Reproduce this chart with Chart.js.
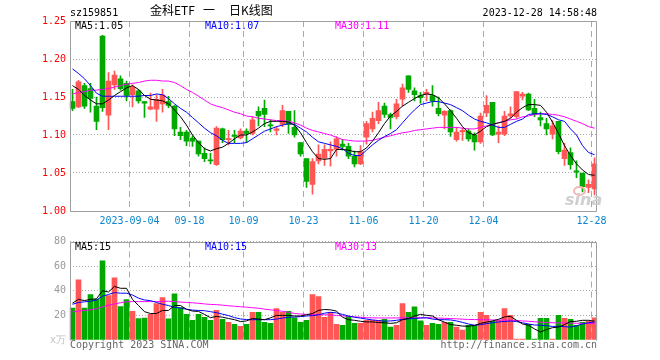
<!DOCTYPE html>
<html>
<head>
<meta charset="utf-8">
<title>金科ETF 日K线图</title>
<script src="https://cdn.jsdelivr.net/npm/chart.js@4.4.0/dist/chart.umd.min.js"></script>
<style>
  body { margin: 0; background: #fff; }
  #wrap { position: relative; width: 660px; height: 360px; overflow: hidden; font: 10px "DejaVu Sans Mono", monospace; }
  #wrap canvas { position: absolute; left: 0; }
  .txt { position: absolute; white-space: pre; line-height: 12px; }
</style>
</head>
<body>
<div id="wrap">
  <canvas id="kChart" width="660" height="232" style="top:0"></canvas>
  <canvas id="volChart" width="660" height="128" style="top:232px"></canvas>

  <div class="txt" id="code" style="left:70px;top:7px;color:#000"></div>
  <div class="txt" id="title" style="left:150px;top:4px;font:12px 'Noto Sans CJK SC';line-height:12px"></div>
  <div class="txt" id="stamp" style="right:63px;top:7px;color:#000"></div>

  <div class="txt" id="ma5Label" style="left:75px;top:20px;color:#000"></div>
  <div class="txt" id="ma10Label" style="left:205px;top:20px;color:#0000ff"></div>
  <div class="txt" id="ma30Label" style="left:335px;top:20px;color:#ff00ff"></div>

  <div class="txt" id="vma5Label" style="left:75px;top:241px;color:#000"></div>
  <div class="txt" id="vma10Label" style="left:205px;top:241px;color:#0000ff"></div>
  <div class="txt" id="vma30Label" style="left:335px;top:241px;color:#ff00ff"></div>

  <div class="txt" id="copy" style="left:70px;top:339px;color:#666"></div>
  <div class="txt" id="site" style="right:63px;top:339px;color:#666"></div>

  <div style="position:absolute;left:573px;top:186px;width:9px;height:6px;border:2px solid #f3b5b5;border-radius:50%"></div>
  <div class="txt" style="left:565px;top:192px;font:italic bold 16px 'DejaVu Sans';line-height:16px;color:#cfcfcf">sina</div>
</div>

<script>
// ---- data ----
const dates = [
  '2023-08-21','2023-08-22','2023-08-23','2023-08-24','2023-08-25','2023-08-28','2023-08-29','2023-08-30','2023-08-31','2023-09-01',
  '2023-09-04','2023-09-05','2023-09-06','2023-09-07','2023-09-08','2023-09-11','2023-09-12','2023-09-13','2023-09-14','2023-09-15',
  '2023-09-18','2023-09-19','2023-09-20','2023-09-21','2023-09-22','2023-09-25','2023-09-26','2023-09-27','2023-09-28',
  '2023-10-09','2023-10-10','2023-10-11','2023-10-12','2023-10-13','2023-10-16','2023-10-17','2023-10-18','2023-10-19','2023-10-20',
  '2023-10-23','2023-10-24','2023-10-25','2023-10-26','2023-10-27','2023-10-30','2023-10-31','2023-11-01','2023-11-02','2023-11-03',
  '2023-11-06','2023-11-07','2023-11-08','2023-11-09','2023-11-10','2023-11-13','2023-11-14','2023-11-15','2023-11-16','2023-11-17',
  '2023-11-20','2023-11-21','2023-11-22','2023-11-23','2023-11-24','2023-11-27','2023-11-28','2023-11-29','2023-11-30','2023-12-01',
  '2023-12-04','2023-12-05','2023-12-06','2023-12-07','2023-12-08','2023-12-11','2023-12-12','2023-12-13','2023-12-14','2023-12-15',
  '2023-12-18','2023-12-19','2023-12-20','2023-12-21','2023-12-22','2023-12-25','2023-12-26','2023-12-27','2023-12-28'
];

const open = [
  1.144,1.137,1.165,1.161,1.138,1.230,1.126,1.166,1.174,1.168,
  1.153,1.158,1.144,1.134,1.134,1.141,1.144,1.138,1.104,1.104,
  1.096,1.092,1.076,1.067,1.061,1.108,1.094,1.100,1.096,1.105,
  1.102,1.131,1.135,1.113,1.106,1.114,1.131,1.110,1.090,1.069,
  1.035,1.066,1.070,1.079,1.081,1.088,1.085,1.072,1.062,1.097,
  1.108,1.119,1.138,1.127,1.124,1.147,1.178,1.158,1.152,1.154,
  1.152,1.135,1.126,1.132,1.094,1.104,1.105,1.100,1.091,1.129,
  1.143,1.101,1.101,1.125,1.124,1.151,1.154,1.135,1.123,1.115,
  1.101,1.118,1.069,1.077,1.053,1.050,1.031,1.029
];
const high = [
  1.160,1.172,1.168,1.168,1.150,1.231,1.182,1.184,1.178,1.171,
  1.166,1.160,1.144,1.155,1.153,1.160,1.151,1.139,1.110,1.106,
  1.099,1.092,1.083,1.076,1.111,1.109,1.106,1.106,1.108,1.108,
  1.124,1.137,1.146,1.120,1.111,1.139,1.131,1.132,1.090,1.069,
  1.069,1.087,1.087,1.091,1.098,1.094,1.089,1.079,1.086,1.118,
  1.130,1.143,1.142,1.129,1.147,1.167,1.178,1.162,1.156,1.160,
  1.165,1.150,1.132,1.133,1.110,1.109,1.108,1.103,1.129,1.152,
  1.143,1.112,1.131,1.137,1.157,1.156,1.155,1.147,1.130,1.122,
  1.119,1.118,1.089,1.083,1.066,1.050,1.041,1.070
];
const low = [
  1.132,1.136,1.135,1.130,1.107,1.131,1.107,1.160,1.159,1.145,
  1.137,1.142,1.123,1.133,1.118,1.130,1.136,1.099,1.094,1.086,
  1.085,1.072,1.065,1.062,1.060,1.090,1.087,1.090,1.095,1.090,
  1.100,1.112,1.111,1.104,1.100,1.111,1.102,1.097,1.072,1.031,
  1.022,1.062,1.060,1.059,1.072,1.080,1.069,1.058,1.061,1.088,
  1.104,1.115,1.123,1.108,1.121,1.138,1.156,1.145,1.142,1.145,
  1.138,1.125,1.108,1.098,1.092,1.093,1.092,1.080,1.089,1.124,
  1.099,1.090,1.099,1.122,1.122,1.146,1.132,1.124,1.112,1.100,
  1.095,1.075,1.060,1.055,1.044,1.025,1.024,1.021
];
const close = [
  1.135,1.170,1.138,1.148,1.118,1.136,1.171,1.179,1.161,1.152,
  1.163,1.145,1.142,1.137,1.147,1.153,1.139,1.108,1.099,1.092,
  1.092,1.075,1.069,1.066,1.109,1.094,1.095,1.098,1.105,1.102,
  1.120,1.125,1.127,1.112,1.108,1.132,1.114,1.100,1.075,1.039,
  1.065,1.075,1.081,1.081,1.095,1.085,1.072,1.062,1.078,1.115,
  1.122,1.132,1.127,1.123,1.141,1.162,1.160,1.153,1.149,1.156,
  1.145,1.128,1.131,1.104,1.104,1.106,1.095,1.091,1.125,1.139,
  1.100,1.104,1.125,1.128,1.157,1.154,1.133,1.127,1.120,1.108,
  1.112,1.078,1.080,1.061,1.051,1.032,1.035,1.062
];

// moving averages as drawn on the price panel
const ma5 = [
  1.165,1.160,1.152,1.146,1.141,1.141,1.146,1.152,1.157,1.162,
  1.165,1.160,1.152,1.147,1.146,1.145,1.141,1.133,1.124,1.113,
  1.100,1.090,1.082,1.079,1.082,1.084,1.089,1.095,1.100,1.100,
  1.104,1.109,1.115,1.118,1.118,1.118,1.117,1.113,1.103,1.090,
  1.078,1.069,1.068,1.069,1.081,1.081,1.080,1.078,1.078,1.083,
  1.092,1.103,1.115,1.125,1.131,1.138,1.143,1.148,1.152,1.154,
  1.153,1.149,1.141,1.132,1.122,1.111,1.103,1.100,1.105,1.111,
  1.114,1.116,1.118,1.122,1.130,1.136,1.140,1.140,1.139,1.130,
  1.117,1.102,1.086,1.073,1.062,1.054,1.048,1.047
];
const ma10 = [
  1.187,1.181,1.174,1.165,1.155,1.151,1.151,1.151,1.151,1.151,
  1.151,1.151,1.152,1.152,1.154,1.153,1.148,1.141,1.135,1.130,
  1.123,1.116,1.109,1.103,1.099,1.093,1.089,1.089,1.089,1.090,
  1.095,1.100,1.105,1.108,1.111,1.113,1.115,1.114,1.109,1.104,
  1.097,1.091,1.089,1.087,1.085,1.082,1.076,1.073,1.073,1.080,
  1.087,1.093,1.098,1.102,1.107,1.116,1.125,1.133,1.140,1.142,
  1.144,1.144,1.142,1.140,1.136,1.132,1.126,1.121,1.118,1.116,
  1.113,1.110,1.110,1.114,1.118,1.121,1.127,1.128,1.128,1.127,
  1.124,1.120,1.118,1.108,1.100,1.086,1.077,1.074
];
const ma30 = [
  1.154,1.156,1.157,1.159,1.159,1.160,1.161,1.163,1.165,1.167,
  1.168,1.169,1.171,1.172,1.172,1.171,1.171,1.169,1.165,1.160,
  1.156,1.151,1.146,1.141,1.138,1.136,1.133,1.130,1.128,1.125,
  1.124,1.122,1.121,1.120,1.119,1.119,1.118,1.116,1.113,1.109,
  1.106,1.104,1.102,1.100,1.097,1.094,1.093,1.092,1.092,1.092,
  1.093,1.095,1.097,1.099,1.101,1.103,1.104,1.106,1.107,1.108,
  1.109,1.110,1.110,1.110,1.110,1.109,1.108,1.108,1.110,1.112,
  1.114,1.116,1.118,1.120,1.121,1.124,1.125,1.127,1.128,1.128,
  1.127,1.126,1.124,1.121,1.118,1.115,1.111,1.109
];

// volume, in 万
const volume = [
  25.9,48.8,25.9,36.8,33.0,64.4,36.0,50.4,27.2,32.8,
  23.2,17.3,17.9,20.8,29.6,34.4,17.1,37.6,26.4,20.8,
  16.0,20.8,18.4,16.0,24.0,16.8,14.4,12.8,11.2,12.8,
  22.4,22.4,14.4,13.6,25.6,22.4,23.2,18.1,14.4,16.0,
  36.8,35.2,18.4,22.4,12.8,12.0,19.2,13.6,13.6,16.0,
  16.0,16.0,16.8,10.4,12.0,29.6,22.4,26.9,15.5,12.0,
  13.6,12.8,14.4,14.4,10.4,8.0,12.0,12.0,22.4,20.0,
  15.2,16.0,25.6,20.0,0.8,0.8,12.8,0.8,17.6,17.6,
  0.8,20.0,17.6,16.8,12.0,14.4,15.2,18.0
];
const vma5 = [
  30,33,32,33,33.5,40,39,43.5,42,42,
  33,28,23,21.5,21.5,24,24,28,28,25,
  23.5,23.2,20.8,18.1,19.2,18.5,17.5,16.5,15,15.5,
  17.5,17,16.5,18,20,20,20,19.5,19.5,20.5,
  21.5,24,24.8,24.5,23.5,18.5,16.5,16,15.2,14.7,
  14.7,14.2,14,13.5,14,16.5,17.5,19.5,20.8,20,
  19.5,16.5,14.5,12.5,12,11.3,11.2,11.8,13.5,14.5,
  15.5,16.8,18.7,19.2,16,13,12,9,6.5,8.5,
  10,10.5,12.5,15,15.2,16,16,15.3
];
const vma10 = [
  29,30.5,31,31.5,32.5,35.5,37,38.5,38,38,
  36.5,34,32.5,32,30.5,29,28,26.5,26,25,
  24.3,24,23.8,23,22.2,21,19.8,18.2,17.1,16.6,
  16.5,16.5,16.5,16.5,17,17.8,18.5,18.7,19,19.5,
  19.8,20.5,21.8,22.5,22,20.8,19.5,18.5,17.8,17,
  16.3,15.8,15.3,15.5,16,16.8,17.2,17.5,17.8,18,
  17,16.5,16.5,16.3,15.5,14.3,13,12,12.5,13.3,
  14,14.7,15,15.4,15,14,13,12.2,12,11.6,
  11,11.2,10.8,10.5,11.5,13,14,14.6
];
const vma30 = [
  22.8,23.5,24,24.5,25.5,27,28.3,29.3,30.3,31,
  31.2,31.2,31.2,31.2,31.2,31.3,31.5,31.2,30.8,30.5,
  30.2,29.8,29.3,28.9,28.7,28.3,27.8,27.4,27,26.7,
  26.2,25.8,25.1,24.5,24,23.3,22.5,21.5,21.1,20.8,
  20.6,20.5,20.5,20.3,20,19.6,19.2,18.8,18.5,18.1,
  18,17.9,17.9,17.9,17.9,18,18.1,18.1,18.1,18.1,
  18,17.8,17.6,17.4,17.2,16.9,16.7,16.6,16.5,16.4,
  16.3,16.2,16.2,16.1,15.8,15.5,15.2,14.8,14.5,14.2,
  14,13.9,13.8,13.7,13.6,13.5,13.4,13.3
];

const tickDates = ['2023-09-04','2023-09-18','2023-10-09','2023-10-23','2023-11-06','2023-11-20','2023-12-04','2023-12-28'];
const tickLabels = ['2023-09-04','09-18','10-09','10-23','11-06','11-20','12-04','12-28'];
const priceTicks = [1.00, 1.05, 1.10, 1.15, 1.20, 1.25];
const volTicks = [0, 20, 40, 60, 80];
const volUnit = 'x万';

// ---- style ----
const RED = '#ff5656';
const GREEN = '#00a800';
const GRID = '#aaaaaa';
const FRAME = '#a0a0a0';
const FONT = '"DejaVu Sans Mono", monospace';

Chart.defaults.font.family = FONT;
Chart.defaults.font.size = 10;

const candleColors = close.map((c, i) => c >= open[i] ? RED : GREEN);
const tickIdx = tickDates.map(d => dates.indexOf(d));

// box around the plot, no bottom edge on the volume panel
function framePlugin(withBottom) {
  return {
    id: 'frame',
    afterDatasetsDraw(chart) {
      const { ctx, chartArea: a } = chart;
      const l = Math.round(a.left) + 0.5, r = Math.floor(a.right) - 0.5;
      const t = Math.round(a.top) + 0.5, b = Math.round(a.bottom) + 0.5;
      ctx.save();
      ctx.strokeStyle = FRAME;
      ctx.lineWidth = 1;
      ctx.beginPath();
      ctx.moveTo(l, withBottom ? b : b + 0);
      ctx.lineTo(l, t);
      ctx.lineTo(r, t);
      ctx.lineTo(r, b);
      if (withBottom) ctx.lineTo(l, b);
      ctx.stroke();
      ctx.restore();
    }
  };
}

function lineSet(data, color) {
  return { type: 'line', data, borderColor: color, borderWidth: 1, pointRadius: 0, tension: 0, fill: false };
}

const xGrid = {
  offset: true,
  drawTicks: false,
  color: ctx => tickIdx.includes(ctx.index) ? GRID : 'transparent'
};

// ---- price panel ----
new Chart(document.getElementById('kChart'), {
  type: 'bar',
  data: {
    labels: dates,
    datasets: [
      lineSet(ma5, '#000000'),
      lineSet(ma10, '#0000ff'),
      lineSet(ma30, '#ff00ff'),
      {
        data: open.map((o, i) => [Math.min(o, close[i]), Math.max(o, close[i])]),
        backgroundColor: candleColors,
        barThickness: 5,
        minBarLength: 1,
        grouped: false
      },
      {
        data: low.map((l, i) => [l, high[i]]),
        backgroundColor: candleColors,
        barThickness: 1,
        grouped: false
      }
    ]
  },
  options: {
    responsive: false,
    animation: false,
    devicePixelRatio: 1,
    layout: { padding: { left: 0, right: 62.5, top: 21, bottom: 0 } },
    plugins: { legend: { display: false }, tooltip: { enabled: false } },
    scales: {
      x: {
        offset: true,
        grid: xGrid,
        border: { display: false, dash: [6, 4] },
        ticks: {
          autoSkip: false,
          maxRotation: 0,
          labelOffset: -3,
          padding: 4,
          color: '#0a86cf',
          callback: (v, i) => {
            const k = tickIdx.indexOf(i);
            return k >= 0 ? tickLabels[k] : '';
          }
        },
        afterFit: s => { s.height = 21; }
      },
      y: {
        min: priceTicks[0],
        max: priceTicks[priceTicks.length - 1],
        afterBuildTicks: s => { s.ticks = priceTicks.map(v => ({ value: v })); },
        grid: { drawTicks: false, color: GRID },
        border: { display: false, dash: [1, 2] },
        ticks: { color: '#ff0000', padding: 3.5, callback: v => v.toFixed(2) },
        afterFit: s => { s.width = 69.5; }
      }
    }
  },
  plugins: [framePlugin(true)]
});

// ---- volume panel ----
new Chart(document.getElementById('volChart'), {
  type: 'bar',
  data: {
    labels: dates,
    datasets: [
      lineSet(vma5, '#000000'),
      lineSet(vma10, '#0000ff'),
      lineSet(vma30, '#ff00ff'),
      { data: volume, backgroundColor: candleColors, barThickness: 5, grouped: false }
    ]
  },
  options: {
    responsive: false,
    animation: false,
    devicePixelRatio: 1,
    layout: { padding: { left: 0, right: 62.5, top: 8, bottom: 20 } },
    plugins: { legend: { display: false }, tooltip: { enabled: false } },
    scales: {
      x: {
        offset: true,
        grid: xGrid,
        border: { display: false, dash: [6, 4] },
        ticks: { display: false },
        afterFit: s => { s.height = 0; }
      },
      y: {
        min: volTicks[0],
        max: volTicks[volTicks.length - 1],
        afterBuildTicks: s => { s.ticks = volTicks.map(v => ({ value: v })); },
        grid: { drawTicks: false, color: ctx => ctx.tick && ctx.tick.value === 0 ? 'transparent' : GRID },
        border: { display: false, dash: [1, 2] },
        ticks: {
          padding: 3.5,
          color: ctx => ctx.tick && ctx.tick.value === 0 ? '#c0c0c0' : '#999999',
          callback: v => v === 0 ? volUnit : String(v)
        },
        afterFit: s => { s.width = 69.5; }
      }
    }
  },
  plugins: [framePlugin(false)]
});

// ---- header / footer text ----
const last = a => a[a.length - 1];
document.getElementById('code').textContent = 'sz159851';
document.getElementById('title').innerHTML = '金科ETF<span style="margin-left:8px">一</span><span style="margin-left:14px">日K线图</span>';
document.getElementById('stamp').textContent = '2023-12-28 14:58:48';
document.getElementById('ma5Label').textContent = 'MA5:' + last(ma5).toFixed(2);
document.getElementById('ma10Label').textContent = 'MA10:' + last(ma10).toFixed(2);
document.getElementById('ma30Label').textContent = 'MA30:' + last(ma30).toFixed(2);
document.getElementById('vma5Label').textContent = 'MA5:' + Math.round(last(vma5));
document.getElementById('vma10Label').textContent = 'MA10:' + Math.round(last(vma10));
document.getElementById('vma30Label').textContent = 'MA30:' + Math.round(last(vma30));
document.getElementById('copy').textContent = 'Copyright 2023 SINA.COM';
document.getElementById('site').textContent = 'http://finance.sina.com.cn';
</script>
</body>
</html>
